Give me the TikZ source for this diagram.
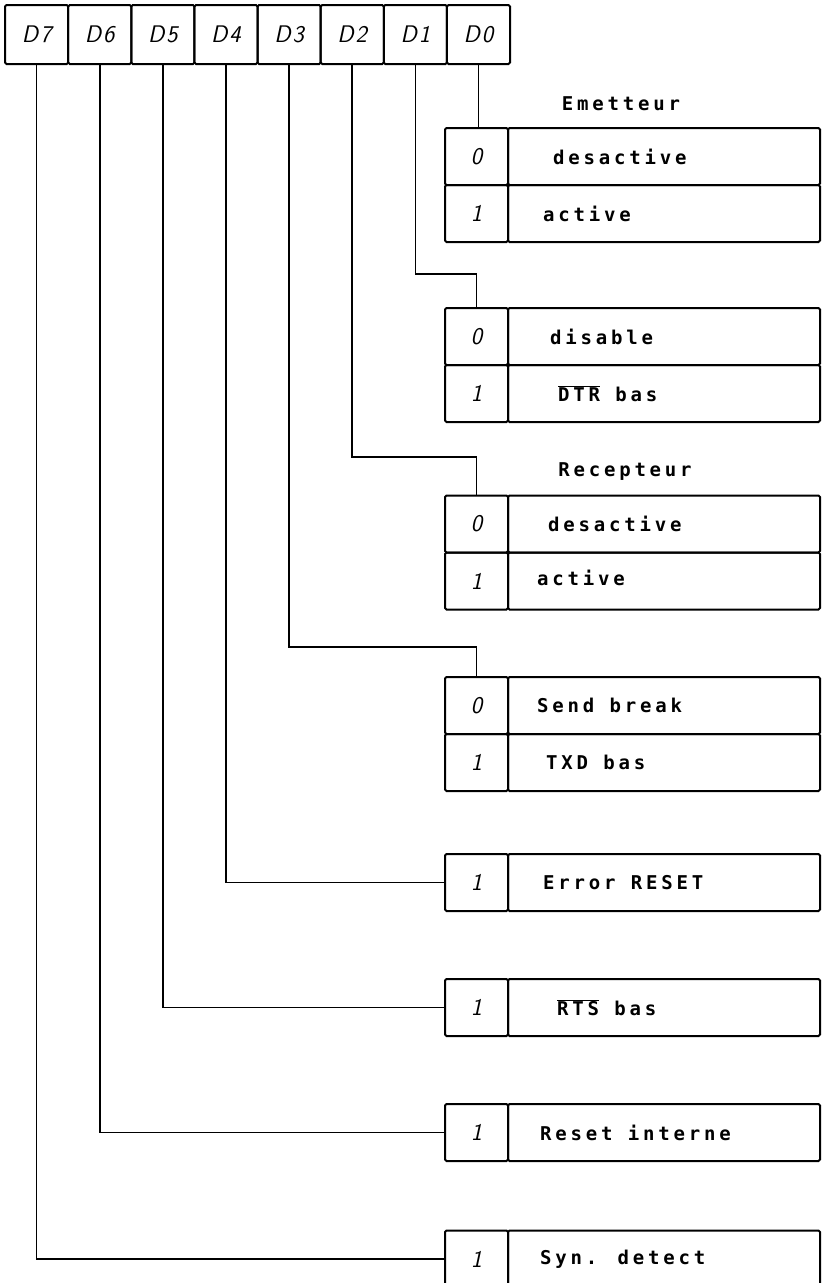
\documentclass[tikz,border=0pt]{standalone}
\usepackage{fontspec}
\usetikzlibrary{positioning}
\newfontfamily\plotfont[LetterSpace=20]{DejaVu Sans Mono}
\newcommand\lblfont{\plotfont\bfseries\fontsize{19}{19}\selectfont}
\newcommand\digfont{\sffamily\itshape\fontsize{24}{24}\selectfont}
\newcommand\ovl[1]{$\overline{\mbox{#1}}$}

\tikzset{
  regcell/.style={draw, line width=2pt, rounded corners=1.5pt, minimum width=63.1pt,
    minimum height=59pt, inner sep=0pt, outer sep=0pt, font=\digfont},
  bitcell/.style={draw, line width=2pt, rounded corners=1.5pt, minimum width=63pt,
    minimum height=57pt, inner sep=0pt, outer sep=0pt, font=\digfont},
  txtcell/.style={draw, line width=2pt, rounded corners=1.5pt, minimum width=312pt,
    minimum height=57pt, inner sep=0pt, outer sep=0pt},
  lbl/.style={anchor=west, inner sep=0pt, font=\lblfont},
  ttl/.style={inner sep=0pt, font=\lblfont},
  wire/.style={line width=1.6pt},
}

\begin{document}
\begin{tikzpicture}[x=1pt,y=-1pt]
  \useasboundingbox (0,0) rectangle (828,1283);

  % register D7..D0
  \foreach \i in {0,...,7}
    \node[regcell] (d\i) at ({478.5-63.125*\i},34.5) {D\kern2pt\i};

  % D0 : emetteur
  \node[ttl] (emt) at (621,104) {Emetteur};
  \node[bitcell] (e0) at (476.5,156.5) {0};
  \node[bitcell, below=0pt of e0] (e1) {1};
  \node[txtcell, right=0pt of e0] (e0t) {};
  \node[txtcell, right=0pt of e1] (e1t) {};
  \node[lbl] (e0l) at ([xshift=45pt]e0t.west) {desactive};
  \node[lbl] (e1l) at ([xshift=35pt]e1t.west) {active};

  % D1 : DTR
  \node[bitcell] (t0) at (476.5,336.5) {0};
  \node[bitcell, below=0pt of t0] (t1) {1};
  \node[txtcell, right=0pt of t0] (t0t) {};
  \node[txtcell, right=0pt of t1] (t1t) {};
  \node[lbl] (t0l) at ([xshift=42pt]t0t.west) {disable};
  \node[lbl] (t1l) at ([xshift=50pt]t1t.west) {\ovl{DTR} bas};

  % D2 : recepteur
  \node[ttl] (rct) at (625,472) {Recepteur};
  \node[bitcell] (r0) at (476.5,524) {0};
  \node[bitcell, below=0pt of r0] (r1) {1};
  \node[txtcell, right=0pt of r0] (r0t) {};
  \node[txtcell, right=0pt of r1] (r1t) {};
  \node[lbl] (r0l) at ([xshift=40pt]r0t.west) {desactive};
  \node[lbl] (r1l) at ([xshift=29pt,yshift=3pt]r1t.west) {active};

  % D3 : break
  \node[bitcell] (s0) at (476.5,705.5) {0};
  \node[bitcell, below=0pt of s0] (s1) {1};
  \node[txtcell, right=0pt of s0] (s0t) {};
  \node[txtcell, right=0pt of s1] (s1t) {};
  \node[lbl] (s0l) at ([xshift=29pt]s0t.west) {Send break};
  \node[lbl] (s1l) at ([xshift=38pt]s1t.west) {TXD bas};

  % D4..D7 : single boxes
  \node[bitcell] (er) at (476.5,882.5) {1};
  \node[txtcell, right=0pt of er] (ert) {};
  \node[lbl] (erl) at ([xshift=35pt]ert.west) {Error RESET};

  \node[bitcell] (rt) at (476.5,1007.5) {1};
  \node[txtcell, right=0pt of rt] (rtt) {};
  \node[lbl] (rtl) at ([xshift=49pt]rtt.west) {\ovl{RTS} bas};

  \node[bitcell] (ri) at (476.5,1132.5) {1};
  \node[txtcell, right=0pt of ri] (rit) {};
  \node[lbl] (ril) at ([xshift=32pt]rit.west) {Reset interne};

  \node[bitcell] (sy) at (476.5,1259) {1};
  \node[txtcell, right=0pt of sy] (syt) {};
  \node[lbl] (syl) at ([xshift=32pt]syt.west) {Syn. detect};

  % connections
  \coordinate (k1) at (476.5,274);
  \coordinate (k2) at (476.5,457);
  \coordinate (k3) at (476.5,647);
  \draw[wire] (d0.south) -- (d0.south |- e0.north);
  \draw[wire] (d1.south) |- (k1) -- (t0.north);
  \draw[wire] (d2.south) |- (k2) -- (r0.north);
  \draw[wire] (d3.south) |- (k3) -- (s0.north);
  \draw[wire] (d4.south) |- (er.west);
  \draw[wire] (d5.south) |- (rt.west);
  \draw[wire] (d6.south) |- (ri.west);
  \draw[wire] (d7.south) |- (sy.west);
\end{tikzpicture}
\end{document}
